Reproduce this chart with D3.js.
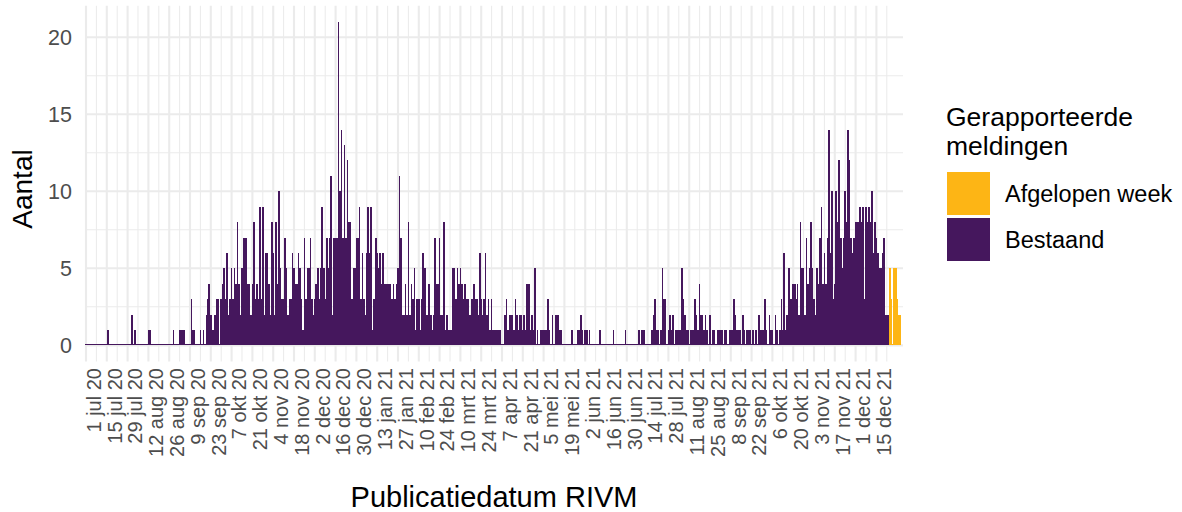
<!DOCTYPE html>
<html>
<head>
<meta charset="utf-8">
<script src="https://cdn.jsdelivr.net/npm/d3@7"></script>
<style>
  body { margin: 0; background: #fff; }
  text { font-family: "Liberation Sans", Arial, sans-serif; }
</style>
</head>
<body>
<svg id="chart" width="1182" height="512"></svg>
<script>
// daily counts from 1 jul 2020 on
var startDate = "2020-07-01";
var counts = [
  0,0,0,0,0,0,0,0,0,0,  0,0,0,0,0,1,0,0,0,0,  0,0,0,0,0,0,0,0,0,0,
  0,2,0,1,0,0,0,0,0,0,  0,0,1,1,0,0,0,0,0,0,  0,0,0,0,0,0,0,0,0,1,
  0,0,0,1,1,1,1,0,0,0,  0,3,1,1,0,0,0,1,0,1,  0,2,3,4,2,1,1,2,3,3,
  0,3,4,5,3,6,2,3,5,3,  5,4,8,4,2,5,7,7,7,4,  4,2,4,8,3,4,3,9,3,9,
  2,6,6,4,2,8,6,2,8,4,  10,5,3,3,7,5,2,3,3,6, 5,4,4,6,5,3,1,7,3,5,
  5,7,3,2,3,4,5,3,5,9,  5,3,7,5,7,11,2,7,7,7, 21,10,14,7,13,7,12,8,8,3,
  5,5,7,7,9,3,6,3,2,6,  9,6,9,1,3,7,6,5,6,4,  6,4,4,4,4,4,3,4,3,4,
  5,11,7,2,2,4,2,8,2,4, 3,5,1,3,3,1,3,6,5,2,  2,4,2,1,2,7,4,4,7,2,
  2,8,1,2,1,1,1,5,5,3,  5,4,5,4,3,4,3,3,2,2,  3,4,3,3,2,6,3,2,3,6,
  2,3,1,3,1,1,1,1,1,1,  0,0,2,3,1,2,2,2,1,3,  2,1,2,2,1,2,1,4,4,1,
  2,1,5,0,1,0,1,1,1,1,  1,3,1,0,2,0,2,2,2,1,  1,0,0,0,0,0,0,1,0,0,
  0,1,1,2,1,0,1,1,0,1,  0,0,0,0,0,0,1,0,0,0,  0,0,0,0,0,1,0,0,0,0,
  0,0,0,1,0,0,0,0,0,0,  0,0,1,0,1,1,1,0,0,0,  0,1,2,3,1,1,0,1,5,3,
  3,0,1,2,1,2,0,1,1,1,  1,5,3,2,1,1,0,1,1,1,  3,2,1,4,2,2,1,2,1,0,
  2,0,1,1,0,1,1,1,1,0,  1,1,0,1,1,1,3,2,1,1,  1,0,2,1,0,1,1,1,0,1,
  0,1,0,2,1,1,1,3,1,0,  2,1,1,0,2,1,0,1,3,1,  6,1,2,5,3,3,4,4,3,4,
  2,8,5,5,2,7,4,5,8,5,  3,2,5,4,7,9,4,6,4,7,  14,6,10,3,4,10,8,12,7,5,
  7,10,8,14,12,7,6,7,8,8, 8,9,8,9,3,9,8,9,8,10, 6,8,7,6,5,5,6,7,2,2,
  2,5,3,0,5,5,3,2,2
];
var lastWeekDays = 8;   // newest days, drawn orange

var tickLabels = ["1 jul 20","15 jul 20","29 jul 20","12 aug 20","26 aug 20","9 sep 20",
  "23 sep 20","7 okt 20","21 okt 20","4 nov 20","18 nov 20","2 dec 20","16 dec 20",
  "30 dec 20","13 jan 21","27 jan 21","10 feb 21","24 feb 21","10 mrt 21","24 mrt 21",
  "7 apr 21","21 apr 21","5 mei 21","19 mei 21","2 jun 21","16 jun 21","30 jun 21",
  "14 jul 21","28 jul 21","11 aug 21","25 aug 21","8 sep 21","22 sep 21","6 okt 21",
  "20 okt 21","3 nov 21","17 nov 21","1 dec 21","15 dec 21"];
var yTicks = [0, 5, 10, 15, 20];
var legendLabels = ["Afgelopen week", "Bestaand"];
var legendColors = ["#FDB515", "#45175D"];

var svg = d3.select("#chart");
var DAY = 864e5;
var start = d3.utcParse("%Y-%m-%d")(startDate);
function dayAt(n) { return new Date(start.getTime() + n * DAY); }

var data = counts.map(function(c, i) {
  return { date: dayAt(i), n: c, recent: i >= counts.length - lastWeekDays };
});

var panel = { left: 85, right: 903, top: 5.7, bottom: 361.5 };

var x = d3.scaleUtc()
    .domain([dayAt(-0.673), dayAt(549.9)])
    .range([panel.left, panel.right]);

var y = d3.scaleLinear()
    .domain([-1.05, 22.05])
    .range([panel.bottom, panel.top]);

var step = x(dayAt(1)) - x(dayAt(0));
var bw = step + 0.15;

// grid
var tickDates = tickLabels.map(function(t, i) { return dayAt(i * 14); });
var minorDates = tickLabels.map(function(t, i) { return dayAt(i * 14 + 7); });

var grid = svg.append("g");
grid.selectAll(".ymin").data([2.5, 7.5, 12.5, 17.5]).enter().append("line")
    .attr("x1", panel.left).attr("x2", panel.right)
    .attr("y1", d => y(d)).attr("y2", d => y(d))
    .style("stroke", "#ebebeb").style("stroke-width", 1.05);
grid.selectAll(".xmin").data(minorDates).enter().append("line")
    .attr("x1", d => x(d)).attr("x2", d => x(d))
    .attr("y1", panel.top).attr("y2", panel.bottom)
    .style("stroke", "#ebebeb").style("stroke-width", 1.05);
grid.selectAll(".ymaj").data(yTicks).enter().append("line")
    .attr("x1", panel.left).attr("x2", panel.right)
    .attr("y1", d => y(d)).attr("y2", d => y(d))
    .style("stroke", "#ebebeb").style("stroke-width", 2.1);
grid.selectAll(".xmaj").data(tickDates).enter().append("line")
    .attr("x1", d => x(d)).attr("x2", d => x(d))
    .attr("y1", panel.top).attr("y2", panel.bottom)
    .style("stroke", "#ebebeb").style("stroke-width", 2.1);

// bars (zero days still leave a thin line on the baseline)
svg.append("g")
    .attr("shape-rendering", "crispEdges")
  .selectAll("rect")
  .data(data).enter().append("rect")
    .attr("x", d => x(d.date) - bw / 2)
    .attr("width", bw)
    .attr("y", d => Math.min(y(d.n), y(0) - 1.3))
    .attr("height", d => Math.max(y(0) - y(d.n), 1.3))
    .style("fill", d => d.recent ? legendColors[0] : legendColors[1]);

// y axis labels
svg.append("g").selectAll("text")
  .data(yTicks).enter().append("text")
    .attr("x", 72)
    .attr("y", d => y(d))
    .attr("dy", "0.36em")
    .attr("text-anchor", "end")
    .style("font-size", "21.5px")
    .style("fill", "#4d4d4d")
    .text(d => d);

// x axis labels, rotated
svg.append("g").selectAll("text")
  .data(tickDates).enter().append("text")
    .attr("transform", d => "translate(" + x(d) + ",368) rotate(-90)")
    .attr("dy", "0.74em")
    .attr("text-anchor", "end")
    .style("font-size", "20px")
    .style("fill", "#4d4d4d")
    .text((d, i) => tickLabels[i]);

// axis titles
svg.append("text")
    .attr("x", (panel.left + panel.right) / 2)
    .attr("y", 507)
    .attr("text-anchor", "middle")
    .style("font-size", "29px")
    .text("Publicatiedatum RIVM");

svg.append("text")
    .attr("transform", "translate(32,189) rotate(-90)")
    .attr("text-anchor", "middle")
    .style("font-size", "28px")
    .text("Aantal");

// legend
var lg = svg.append("g");
lg.append("text").attr("x", 946).attr("y", 126).style("font-size", "26.5px").text("Gerapporteerde");
lg.append("text").attr("x", 946).attr("y", 155).style("font-size", "26.5px").text("meldingen");

var key = lg.selectAll(".key").data(legendLabels).enter().append("g")
    .attr("transform", (d, i) => "translate(947," + (172 + i * 46) + ")");
key.append("rect")
    .attr("width", 43).attr("height", 43)
    .style("fill", (d, i) => legendColors[i]);
key.append("text")
    .attr("x", 58).attr("y", 21.5).attr("dy", "0.36em")
    .style("font-size", "23.5px")
    .text(d => d);
</script>
</body>
</html>
